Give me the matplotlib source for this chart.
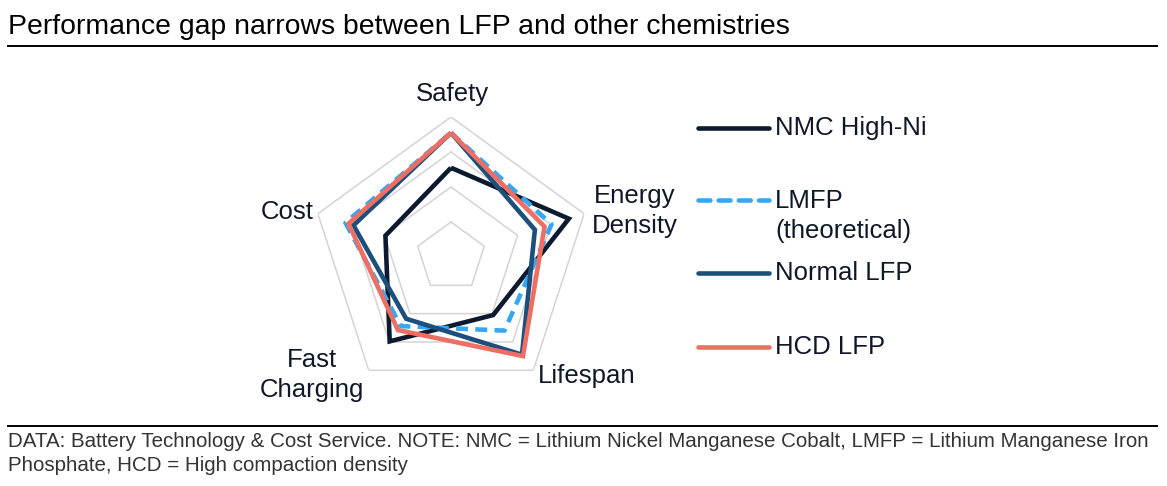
import numpy as np
import matplotlib
matplotlib.use("Agg")
import matplotlib.pyplot as plt
from matplotlib.lines import Line2D

plt.rcParams["font.family"] = ["Liberation Sans", "DejaVu Sans"]

categories = ["Safety", "Energy\nDensity", "Lifespan", "Fast\nCharging", "Cost"]
nmc_high_ni = [2.55, 3.54, 2.05, 2.98, 1.97]
lmfp = [3.55, 3.02, 2.60, 2.44, 3.17]
normal_lfp = [3.55, 2.52, 3.45, 2.18, 2.93]
hcd_lfp = [3.55, 2.81, 3.50, 2.58, 3.08]
grid_levels = [1, 2, 3, 4]

series = [
    ("NMC High-Ni", nmc_high_ni, "#0b1a2e", "-"),
    ("LMFP\n(theoretical)", lmfp, "#35a7f5", "--"),
    ("Normal LFP", normal_lfp, "#1d4f7c", "-"),
    ("HCD LFP", hcd_lfp, "#ee6e64", "-"),
]

W, H = 1167, 486
TXT = "#101828"
LBL = 18.5


def px(x, y):
    return x / W, 1 - y / H


fig = plt.figure(figsize=(W / 100, H / 100), dpi=100)

# header / footer
fig.text(*px(8, 27), "Performance gap narrows between LFP and other chemistries",
         fontsize=20.4, color="black", va="center", ha="left")
fig.add_artist(Line2D([8 / W, 1157 / W], [1 - 46.5 / H] * 2, color="black", lw=1.4))
fig.add_artist(Line2D([8 / W, 1157 / W], [1 - 426 / H] * 2, color="black", lw=1.4))
fig.text(*px(8, 441), "DATA: Battery Technology & Cost Service. NOTE: NMC = Lithium Nickel "
         "Manganese Cobalt, LMFP = Lithium Manganese Iron", fontsize=14.75, color="#333333",
         va="center", ha="left")
fig.text(*px(8, 465), "Phosphate, HCD = High compaction density", fontsize=14.75,
         color="#333333", va="center", ha="left")

# radar axes
cx, cy, R = 451, 257, 140
ax = fig.add_axes([(cx - R) / W, (H - cy - R) / H, 2 * R / W, 2 * R / H], polar=True)
ax.set_theta_zero_location("N")
ax.set_theta_direction(-1)
ax.set_ylim(0, 4)
ax.axis("off")

n = len(categories)
angles = np.linspace(0, 2 * np.pi, n, endpoint=False)
closed = np.append(angles, angles[0])

for lv in grid_levels:
    ax.plot(closed, [lv] * (n + 1), color="#d4d4d4", lw=1.1, zorder=1)

for name, vals, col, ls in series:
    v = list(vals) + [vals[0]]
    line, = ax.plot(closed, v, color=col, lw=3.3, ls=ls, zorder=3,
                    solid_joinstyle="miter", solid_capstyle="butt")
    if ls == "--":
        line.set_dashes((2.6, 1.6))

# axis labels
label_pos = [(452, 94), (635, 211), (587, 376), (312, 375), (287, 212)]
for lab, (x, y) in zip(categories, label_pos):
    fig.text(*px(x, y), lab, fontsize=LBL, color=TXT, ha="center", va="center",
             linespacing=1.35)

# legend
leg_y = [128, 200, 273, 347]
for (name, vals, col, ls), y in zip(series, leg_y):
    ln = Line2D([698 / W, 769 / W], [1 - y / H] * 2, color=col, lw=3.3, ls=ls,
                solid_capstyle="round", dash_capstyle="round")
    if ls == "--":
        ln.set_dashes((2.6, 1.8))
    fig.add_artist(ln)
    if "\n" in name:
        fig.text(*px(775, y + 16), name, fontsize=LBL, color=TXT, ha="left",
                 va="center", linespacing=1.35)
    else:
        fig.text(*px(775, y), name, fontsize=LBL, color=TXT, ha="left", va="center")

fig.savefig("out.png", dpi=100, facecolor="white")
